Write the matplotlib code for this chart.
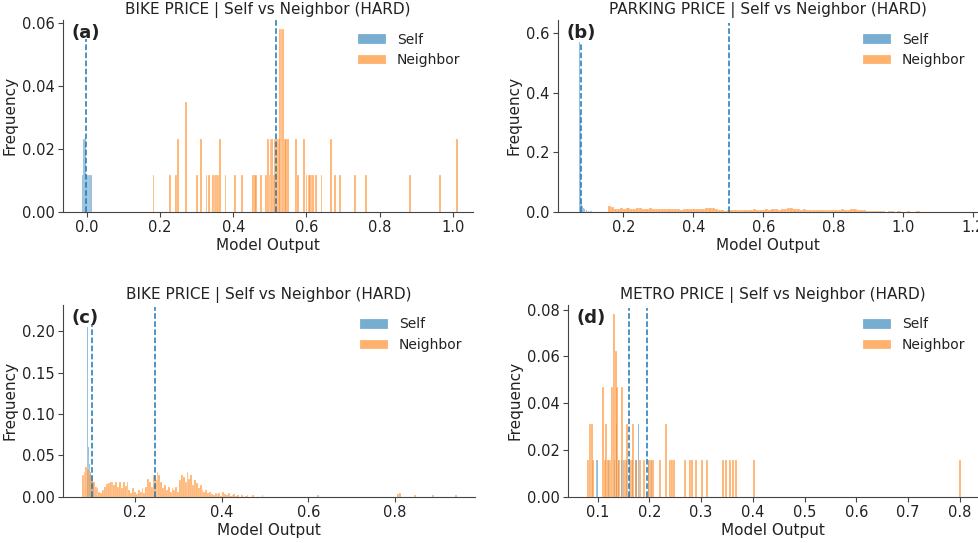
import matplotlib
matplotlib.use("Agg")
import matplotlib.pyplot as plt
import numpy as np

# ---------------- data ----------------
TITLES = ["BIKE PRICE | Self vs Neighbor (HARD)", "PARKING PRICE | Self vs Neighbor (HARD)",
          "BIKE PRICE | Self vs Neighbor (HARD)", "METRO PRICE | Self vs Neighbor (HARD)"]
PANEL_LABELS = ["(a)", "(b)", "(c)", "(d)"]

# (a) counts out of N_A samples
N_A = 86
a_self_x = [-0.0115, -0.009, -0.0065, -0.004, -0.0015, 0.001, 0.0035, 0.006, 0.0085, 0.011, 0.0135]
a_self_c = [1, 2, 2, 2, 1, 1, 1, 1, 1, 1, 1]
a_nb_x = [0.182, 0.227, 0.244, 0.250, 0.270, 0.302, 0.311, 0.327, 0.333, 0.344, 0.349, 0.353,
          0.359, 0.365, 0.379, 0.404, 0.425, 0.455, 0.459, 0.462, 0.477, 0.489, 0.495, 0.499,
          0.502, 0.507, 0.511, 0.515, 0.520, 0.524, 0.528, 0.532, 0.536, 0.541, 0.545, 0.550,
          0.571, 0.577, 0.593, 0.600, 0.606, 0.610, 0.614, 0.619, 0.625, 0.641, 0.668, 0.679,
          0.691, 0.732, 0.762, 0.882, 0.965, 1.011]
a_nb_c = [1, 1, 1, 2, 3, 1, 2, 1, 1, 1, 1, 1,
          1, 2, 1, 1, 1, 1, 1, 1, 1, 1, 2, 1,
          2, 2, 1, 2, 2, 2, 5, 5, 5, 2, 2, 2,
          2, 1, 2, 1, 1, 1, 1, 1, 1, 1, 2, 1,
          1, 1, 1, 1, 1, 2]
a_means = [-0.003, 0.518]
a_mean_tops = [0.90, 1.0]

# (b) frequencies
b_self_x = [0.0735, 0.0765, 0.0795, 0.0825, 0.0855, 0.090, 0.095, 0.100, 0.105, 0.110]
b_self_h = [0.57, 0.33, 0.03, 0.02, 0.012, 0.008, 0.005, 0.004, 0.003, 0.002]
b_nb_start = 0.155
b_nb_width = 0.009
b_nb_h = [0.020, 0.016, 0.010, 0.008, 0.011, 0.009, 0.012, 0.010, 0.008, 0.011,
          0.012, 0.009, 0.010, 0.013, 0.008, 0.009, 0.010, 0.010, 0.009, 0.008,
          0.008, 0.009, 0.009, 0.007, 0.008, 0.009, 0.010, 0.009, 0.008, 0.009,
          0.008, 0.012, 0.013, 0.011, 0.009, 0.007, 0.005, 0.004,
          0.005, 0.006, 0.005, 0.006, 0.007, 0.006, 0.007, 0.006, 0.008, 0.007,
          0.006, 0.007, 0.008, 0.007, 0.009, 0.008, 0.007, 0.008, 0.010, 0.011,
          0.014, 0.010, 0.008, 0.007, 0.008, 0.006, 0.007, 0.006, 0.005, 0.007,
          0.006, 0.005, 0.006, 0.007, 0.005, 0.006, 0.008, 0.006, 0.007, 0.008,
          0.009, 0.007, 0.006, 0.005, 0.004, 0.003,
          0.002, 0.003, 0.001, 0.002, 0.0, 0.002, 0.001, 0.0, 0.002, 0.0,
          0.0, 0.001, 0.0, 0.0, 0.001, 0.0]
b_means = [0.079, 0.503]
b_mean_tops = [0.885, 0.985]

# (c) frequencies
c_self_x = [0.0895, 0.0905, 0.0915, 0.0925, 0.0935, 0.0945, 0.0955, 0.0965, 0.0975, 0.0985,
            0.0995, 0.1005, 0.102, 0.104, 0.106, 0.108]
c_self_h = [0.03, 0.205, 0.15, 0.06, 0.05, 0.045, 0.04, 0.035, 0.03, 0.028,
            0.025, 0.022, 0.02, 0.018, 0.012, 0.008]
c_nb_start = 0.077
c_nb_width = 0.004325
c_nb_h = [0.026, 0.030, 0.036, 0.033, 0.028, 0.022, 0.018, 0.012, 0.010, 0.006,
          0.004, 0.008, 0.012, 0.015, 0.017, 0.018, 0.018, 0.014, 0.018, 0.012,
          0.018, 0.010, 0.018, 0.013, 0.018, 0.008, 0.004, 0.010, 0.006, 0.003,
          0.008, 0.006, 0.010, 0.004, 0.012, 0.022, 0.018, 0.012, 0.026, 0.020,
          0.030, 0.026, 0.018, 0.010, 0.014, 0.008, 0.012, 0.006, 0.010, 0.008,
          0.012, 0.006, 0.020, 0.026, 0.024, 0.018, 0.030, 0.022, 0.026, 0.014,
          0.020, 0.016, 0.010, 0.014, 0.008, 0.006, 0.008, 0.004, 0.006, 0.003,
          0.002, 0.005, 0.003, 0.004, 0.001, 0.006, 0.003, 0.002, 0.004, 0.001,
          0.002, 0.003, 0.001, 0.002, 0.0, 0.002, 0.0, 0.001, 0.002, 0.0,
          0.0, 0.002, 0.0, 0.0, 0.0, 0.0, 0.002, 0.0]
c_far_x = [0.623, 0.808, 0.812, 0.846, 0.889, 0.941]
c_far_h = [0.002, 0.003, 0.004, 0.002, 0.002, 0.002]
c_means = [0.100, 0.246]
c_mean_tops = [0.90, 0.99]

# (d) counts out of N_D samples
N_D = 64
d_self_x = [0.0975, 0.100, 0.121, 0.128, 0.133, 0.137, 0.141, 0.146, 0.150, 0.156, 0.162,
            0.168, 0.173, 0.176, 0.179, 0.182, 0.186, 0.190, 0.198, 0.204, 0.211, 0.215]
d_self_c = [1, 1, 1, 1, 1, 2, 1, 1, 1, 1, 1, 1, 1, 1, 2, 1, 1, 1, 1, 1, 3, 1]
d_nb_x = [0.081, 0.085, 0.089, 0.092, 0.110, 0.114, 0.117, 0.121, 0.124, 0.128, 0.1315,
          0.135, 0.1385, 0.142, 0.147, 0.153, 0.157, 0.164, 0.168, 0.175, 0.182, 0.189,
          0.200, 0.204, 0.208, 0.221, 0.2326, 0.240, 0.244, 0.248, 0.269, 0.279, 0.283,
          0.290, 0.3015, 0.311, 0.343, 0.349, 0.356, 0.362, 0.367, 0.403, 0.800]
d_nb_c = [1, 2, 2, 1, 3, 1, 2, 1, 1, 3, 5,
          4, 3, 1, 3, 1, 2, 1, 2, 1, 1, 1,
          1, 1, 1, 1, 2, 1, 1, 1, 1, 1, 1,
          1, 1, 1, 1, 1, 1, 1, 1, 1, 1]
d_means = [0.160, 0.1965]
d_mean_tops = [0.985, 0.985]

# ---------------- style ----------------
plt.rcParams.update({
    "font.family": "DejaVu Sans",
    "axes.edgecolor": "#444444",
    "xtick.color": "#444444",
    "ytick.color": "#444444",
    "xtick.labelcolor": "#222222",
    "ytick.labelcolor": "#222222",
    "text.color": "#222222",
    "axes.labelcolor": "#222222",
})
BLUE = "#1f77b4"
ORANGE = "#ff7f0e"

fig = plt.figure(figsize=(9.79, 5.43), dpi=100)
W, H = 979, 543
def add_ax(l, t, r, b):
    return fig.add_axes([l / W, 1 - b / H, (r - l) / W, (b - t) / H])

axes = [add_ax(63, 20, 473, 211.7), add_ax(558, 20, 978, 211.7),
        add_ax(63, 305, 475, 496.7), add_ax(568, 305, 978, 496.7)]

bar_kw = dict(alpha=0.6, edgecolor="white", linewidth=0.25)

def draw(ax, sx, sh, sw, nx, nh, nw):
    ax.bar(sx, sh, width=sw, color=BLUE, label="Self", **bar_kw)
    ax.bar(nx, nh, width=nw, color=ORANGE, label="Neighbor", **bar_kw)

def mean_lines(ax, means, tops):
    for m, t in zip(means, tops):
        ax.axvline(m, ymin=0, ymax=t, color=BLUE, linestyle="--", linewidth=1.1)

fmt = matplotlib.ticker.FormatStrFormatter

# (a)
ax = axes[0]
draw(ax, a_self_x, np.array(a_self_c) / N_A, 0.0025, a_nb_x, np.array(a_nb_c) / N_A, 0.005)
ax.set_xlim(-0.065, 1.055); ax.set_ylim(0, 0.061)
ax.set_xticks(np.arange(0, 1.01, 0.2)); ax.set_yticks([0, 0.02, 0.04, 0.06])
ax.yaxis.set_major_formatter(fmt("%.2f")); ax.xaxis.set_major_formatter(fmt("%.1f"))
mean_lines(ax, a_means, a_mean_tops)

# (b)
ax = axes[1]
b_nb_x = b_nb_start + b_nb_width * (np.arange(len(b_nb_h)) + 0.5)
draw(ax, b_self_x, b_self_h, 0.003, b_nb_x, b_nb_h, b_nb_width)
ax.set_xlim(0.0134, 1.213); ax.set_ylim(0, 0.645)
ax.set_xticks(np.arange(0.2, 1.21, 0.2)); ax.set_yticks([0, 0.2, 0.4, 0.6])
ax.yaxis.set_major_formatter(fmt("%.1f")); ax.xaxis.set_major_formatter(fmt("%.1f"))
mean_lines(ax, b_means, b_mean_tops)

# (c)
ax = axes[2]
c_nb_x = list(c_nb_start + c_nb_width * (np.arange(len(c_nb_h)) + 0.5)) + c_far_x
draw(ax, c_self_x, c_self_h, 0.001, c_nb_x, list(c_nb_h) + c_far_h, c_nb_width)
ax.set_xlim(0.034, 0.985); ax.set_ylim(0, 0.232)
ax.set_xticks([0.2, 0.4, 0.6, 0.8]); ax.set_yticks([0, 0.05, 0.10, 0.15, 0.20])
ax.yaxis.set_major_formatter(fmt("%.2f")); ax.xaxis.set_major_formatter(fmt("%.1f"))
mean_lines(ax, c_means, c_mean_tops)

# (d)
ax = axes[3]
draw(ax, d_self_x, np.array(d_self_c) / N_D, 0.0015, d_nb_x, np.array(d_nb_c) / N_D, 0.004)
ax.set_xlim(0.043, 0.835); ax.set_ylim(0, 0.082)
ax.set_xticks(np.arange(0.1, 0.81, 0.1)); ax.set_yticks([0, 0.02, 0.04, 0.06, 0.08])
ax.yaxis.set_major_formatter(fmt("%.2f")); ax.xaxis.set_major_formatter(fmt("%.1f"))
mean_lines(ax, d_means, d_mean_tops)

for ax, title, lab in zip(axes, TITLES, PANEL_LABELS):
    ax.set_title(title, fontsize=11, pad=4)
    ax.set_xlabel("Model Output", fontsize=11, labelpad=2)
    ax.set_ylabel("Frequency", fontsize=11, labelpad=3)
    ax.tick_params(labelsize=10.5, length=3.5, pad=2.5)
    ax.spines["top"].set_visible(False)
    ax.spines["right"].set_visible(False)
    ax.legend(loc="upper right", frameon=False, fontsize=10)
    ax.text(0.02, 0.98, lab, transform=ax.transAxes, fontsize=13, fontweight="bold",
            ha="left", va="top")

fig.savefig("out.png", dpi=100)
